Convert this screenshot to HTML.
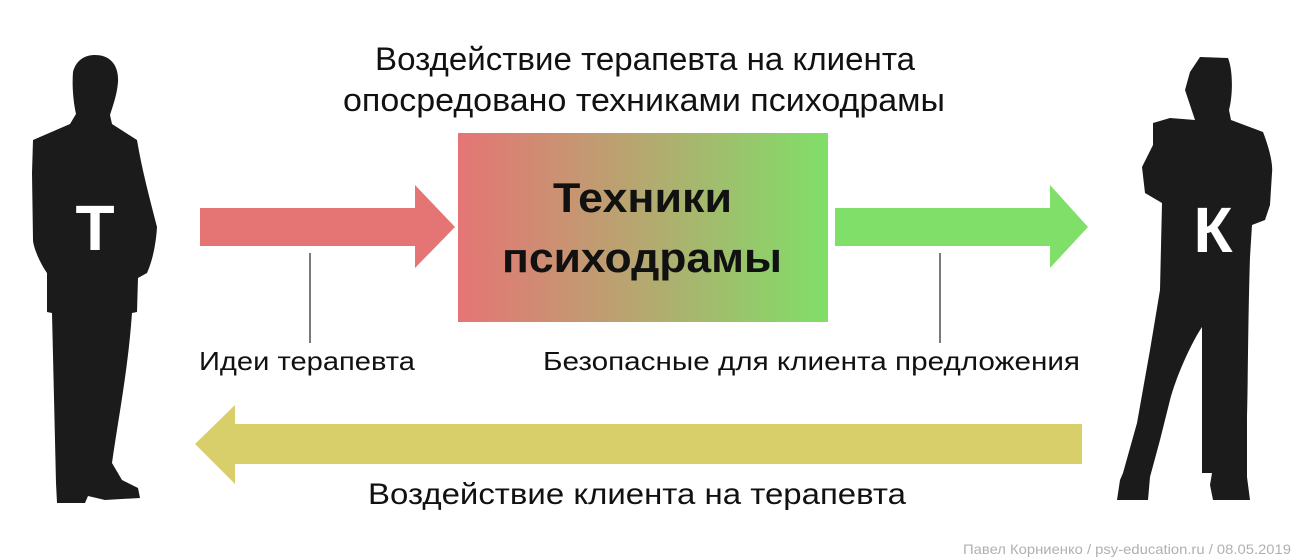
<!DOCTYPE html>
<html><head><meta charset="utf-8"><style>
html,body{margin:0;padding:0;background:#fff;width:1300px;height:560px;overflow:hidden}
svg text{font-family:"Liberation Sans",sans-serif}
</style></head><body>
<svg width="1300" height="560" viewBox="0 0 1300 560" xmlns="http://www.w3.org/2000/svg">
<defs>
<linearGradient id="g" x1="0" x2="1" y1="0" y2="0">
<stop offset="0" stop-color="#e57575"/><stop offset="0.5" stop-color="#b5a870"/><stop offset="1" stop-color="#80df68"/>
</linearGradient>
</defs>
<path fill="#1b1b1b" d="M95,55 C110,55 119,65 118,82 C117,95 113,105 110,115 L112,124 L137,140 C142,170 150,200 157,227 C156,245 152,262 147,273 L138,278 L137,312 L132,313 C128,370 118,420 112,463 L122,480 L138,488 L140,498 L105,500 L88,496 L85,503 L57,503 L56,483 L52,313 L47,312 L47,273 C38,260 33,245 33,240 L32,173 L33,140 L70,124 L76,114 C73,100 72,85 73,72 C76,60 85,55 95,55 Z"/>
<path fill="#1b1b1b" d="M1200,57 L1228,58 C1233,70 1233,95 1229,110 L1231,120 L1263,132 C1270,150 1273,165 1272,173 L1270,205 L1265,220 L1252,225 L1250,257 C1248,320 1248,380 1247,417 L1247,477 L1250,500 L1213,500 L1210,485 L1212,473 L1202,473 L1202,327 C1190,345 1175,380 1170,400 L1160,440 L1150,477 L1148,500 L1117,500 L1120,480 L1123,473 L1137,423 L1150,350 L1160,290 L1162,203 L1145,193 L1142,167 L1153,145 L1153,123 L1170,118 L1195,120 L1185,90 L1190,72 Z"/>
<text x="95" y="250" font-size="64" font-weight="bold" fill="#fff" text-anchor="middle">Т</text>
<text x="1213" y="252" font-size="64" font-weight="bold" fill="#fff" text-anchor="middle">К</text>
<polygon fill="#e57575" points="200,208 415,208 415,185 455,227 415,268 415,246 200,246"/>
<polygon fill="#80df68" points="835,208 1050,208 1050,185 1088,227 1050,268 1050,246 835,246"/>
<polygon fill="#d8cf6a" points="1082,424 235,424 235,405 195,444 235,484 235,464 1082,464"/>
<rect x="458" y="133" width="370" height="189" fill="url(#g)"/>
<line x1="310" y1="253" x2="310" y2="343" stroke="#222" stroke-width="1.2"/>
<line x1="940" y1="253" x2="940" y2="343" stroke="#222" stroke-width="1.2"/>
<g fill="#111" lengthAdjust="spacingAndGlyphs">
<text x="375" y="70" font-size="32" textLength="540" lengthAdjust="spacingAndGlyphs">Воздействие терапевта на клиента</text>
<text x="343" y="111" font-size="32" textLength="602" lengthAdjust="spacingAndGlyphs">опосредовано техниками психодрамы</text>
<text x="553" y="212" font-size="42" font-weight="bold" textLength="179" lengthAdjust="spacingAndGlyphs">Техники</text>
<text x="502" y="272" font-size="42" font-weight="bold" textLength="280" lengthAdjust="spacingAndGlyphs">психодрамы</text>
<text x="199" y="370" font-size="26" textLength="216" lengthAdjust="spacingAndGlyphs">Идеи терапевта</text>
<text x="543" y="370" font-size="26" textLength="537" lengthAdjust="spacingAndGlyphs">Безопасные для клиента предложения</text>
<text x="368" y="504" font-size="30" textLength="538" lengthAdjust="spacingAndGlyphs">Воздействие клиента на терапевта</text>
</g>
<text x="963" y="554" font-size="14" fill="#b0b0b0" textLength="328" lengthAdjust="spacingAndGlyphs">Павел Корниенко / psy-education.ru / 08.05.2019</text>
</svg>
</body></html>
